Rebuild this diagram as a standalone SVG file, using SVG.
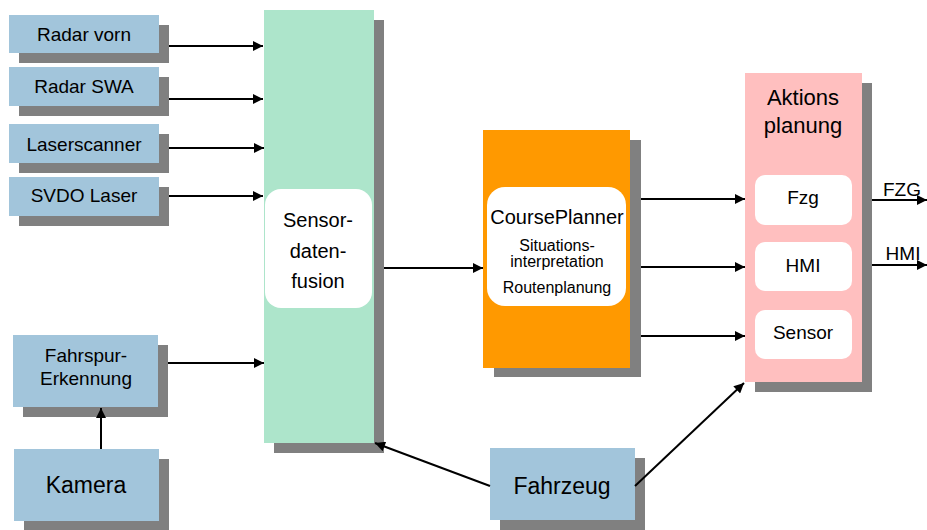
<svg xmlns="http://www.w3.org/2000/svg" width="927" height="530" viewBox="0 0 927 530">
<defs>
<style>
.sh{fill:#808080}
.bl{fill:#A2C5DB}
.t{font-family:"Liberation Sans",Arial,sans-serif;fill:#000;text-anchor:middle}
.c{stroke:#000;stroke-width:2;fill:none;marker-end:url(#ah)}
.w{fill:#fff}
</style>
<marker id="ah" viewBox="0 0 10 10" refX="10" refY="5" markerWidth="5.5" markerHeight="5" markerUnits="strokeWidth" orient="auto">
<path d="M0,0L10,5L0,10z" fill="#000"/>
</marker>
</defs>
<rect width="927" height="530" fill="#fff"/>
<g id="radar-vorn"><rect class="sh" x="19" y="25" width="150" height="38"/><rect class="bl" x="9" y="15" width="150" height="38"/><text class="t" x="84" y="41" font-size="19">Radar vorn</text></g>
<g id="radar-swa"><rect class="sh" x="19" y="77" width="150" height="39"/><rect class="bl" x="9" y="67" width="150" height="39"/><text class="t" x="84" y="93" font-size="19">Radar SWA</text></g>
<g id="laserscanner"><rect class="sh" x="19" y="134" width="150" height="39"/><rect class="bl" x="9" y="124" width="150" height="39"/><text class="t" x="84" y="151" font-size="19">Laserscanner</text></g>
<g id="svdo-laser"><rect class="sh" x="19" y="187" width="150" height="39"/><rect class="bl" x="9" y="177" width="150" height="39"/><text class="t" x="84" y="202" font-size="19">SVDO Laser</text></g>
<g id="fahrspur"><rect class="sh" x="23" y="345" width="145" height="72"/><rect class="bl" x="13" y="335" width="145" height="72"/><text class="t" x="86" y="362" font-size="19">Fahrspur-</text><text class="t" x="86" y="385" font-size="19">Erkennung</text></g>
<g id="kamera"><rect class="sh" x="24" y="459" width="145" height="72"/><rect class="bl" x="14" y="449" width="145" height="72"/><text class="t" x="86" y="493" font-size="23">Kamera</text></g>
<g id="sensordatenfusion"><rect class="sh" x="274" y="20" width="110" height="433"/><rect fill="#ADE5CB" x="264" y="10" width="110" height="433"/><rect class="w" x="265" y="189" width="107" height="119" rx="16"/><text class="t" x="318" y="227" font-size="20">Sensor-</text><text class="t" x="318" y="258" font-size="20">daten-</text><text class="t" x="318" y="288" font-size="20">fusion</text></g>
<g id="courseplanner"><rect class="sh" x="494" y="140" width="147" height="237"/><rect fill="#FF9900" x="483" y="130" width="147" height="238"/><rect class="w" x="487" y="187" width="139" height="119" rx="18"/><text class="t" x="557" y="224" font-size="20">CoursePlanner</text><text class="t" x="557" y="251" font-size="16">Situations-</text><text class="t" x="557" y="267" font-size="16">interpretation</text><text class="t" x="557" y="293" font-size="16">Routenplanung</text></g>
<g id="aktionsplanung"><rect class="sh" x="755" y="83" width="117" height="309"/><rect fill="#FFBFBF" x="745" y="73" width="117" height="309"/><text class="t" x="803" y="105" font-size="22">Aktions</text><text class="t" x="803" y="133" font-size="22">planung</text>
<rect class="w" x="755" y="175" width="97" height="50" rx="10"/><text class="t" x="803" y="204" font-size="19">Fzg</text>
<rect class="w" x="755" y="242" width="97" height="49" rx="10"/><text class="t" x="803" y="272" font-size="19">HMI</text>
<rect class="w" x="755" y="310" width="97" height="49" rx="10"/><text class="t" x="803" y="339" font-size="19">Sensor</text></g>
<g id="fahrzeug"><rect class="sh" x="500" y="458" width="145" height="72"/><rect class="bl" x="490" y="448" width="145" height="72"/><text class="t" x="562" y="494" font-size="23">Fahrzeug</text></g>
<g id="outputs"><text class="t" x="902" y="196" font-size="19">FZG</text><text class="t" x="903" y="260" font-size="19">HMI</text></g>
<g id="connectors">
<line class="c" x1="169" y1="46" x2="263" y2="46"/>
<line class="c" x1="169" y1="99" x2="263" y2="99"/>
<line class="c" x1="169" y1="148" x2="264" y2="148"/>
<line class="c" x1="169" y1="196" x2="263" y2="196"/>
<line class="c" x1="168" y1="363" x2="264" y2="363"/>
<line class="c" x1="101" y1="449" x2="101" y2="408"/>
<line class="c" x1="384" y1="268" x2="483" y2="268"/>
<line class="c" x1="641" y1="199" x2="745" y2="199"/>
<line class="c" x1="641" y1="267" x2="745" y2="267"/>
<line class="c" x1="641" y1="336" x2="745" y2="336"/>
<line class="c" x1="872" y1="200" x2="927" y2="200"/>
<line class="c" x1="872" y1="265" x2="927" y2="265"/>
<line class="c" x1="490" y1="486" x2="375" y2="443"/>
<line class="c" x1="635" y1="486" x2="744" y2="383"/>
</g>
</svg>
